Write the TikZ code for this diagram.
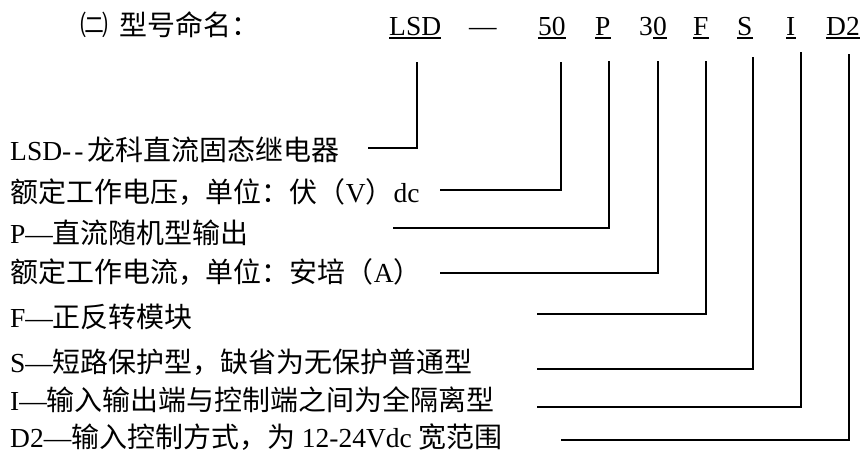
\documentclass[tikz,border=0pt]{standalone}
\usepackage{fontspec}
\setmainfont{Liberation Serif}
\newfontfamily\cjk{Noto Sans CJK SC}[Scale=1.017]
\newcommand\zh[1]{{\cjk #1}}
\begin{document}
\begin{tikzpicture}[x=1pt,y=-1pt,
  lbl/.style={anchor=base west,inner sep=0pt,font=\fontsize{27.5}{33}\selectfont},
  lead/.style={line width=1.4pt},
  uline/.style={line width=1.3pt}]
\useasboundingbox (0,0) rectangle (862,450);
% title and code row
\node[lbl] (title) at (80,35.5) {\zh{㈡\kern11pt 型号命名：}};
\node[lbl] (cLSD) at (389,35.5) {LSD};
\node[lbl] (cdash) at (469,35.5) {—};
\node[lbl] (c50) at (538,35.5) {50};
\node[lbl] (cP) at (595,35.5) {P};
\node[lbl] (c3) at (639,35.5) {3};
\node[lbl] (c0) at (653,35.5) {0};
\node[lbl] (cF) at (693,35.5) {F};
\node[lbl] (cS) at (737,35.5) {S};
\node[lbl] (cI) at (786,35.5) {I};
\node[lbl] (cD) at (826,35.5) {D2};
\foreach \n in {cLSD,c50,cP,c0,cF,cS,cI,cD}
  \draw[uline] ([yshift=-2.5pt]\n.base west) -- ([yshift=-2.5pt]\n.base east);
% descriptions
\node[lbl] (d1) at (10,160) {LSD-\kern3pt-\kern4pt\zh{龙科直流固态继电器}};
\node[lbl] (d2) at (10,202.5) {\zh{额定工作电压，单位：伏（}V\zh{）}dc};
\node[lbl] (d3) at (10,243.5) {P—\zh{直流随机型输出}};
\node[lbl] (d4) at (10,282.5) {\zh{额定工作电流，单位：安培（}A\zh{）}};
\node[lbl] (d5) at (10,327.5) {F—\zh{正反转模块}};
\node[lbl] (d6) at (10,372.5) {S—\zh{短路保护型，缺省为无保护普通型}};
\node[lbl] (d7) at (10,410.5) {I—\zh{输入输出端与控制端之间为全隔离型}};
\node[lbl] (d8) at (10,447) {D2—\zh{输入控制方式，为} 12-24Vdc \zh{宽范围}};
% leader end points
\coordinate (t1) at (417,62);  \coordinate (e1) at (368,148);
\coordinate (t2) at (561,62);  \coordinate (e2) at (440,190);
\coordinate (t3) at (609,61);  \coordinate (e3) at (393,228);
\coordinate (t4) at (658,61);  \coordinate (e4) at (440,273);
\coordinate (t5) at (706,61);  \coordinate (e5) at (537,314);
\coordinate (t6) at (753,57);  \coordinate (e6) at (537,369);
\coordinate (t7) at (801,52);  \coordinate (e7) at (537,407);
\coordinate (t8) at (849,54);  \coordinate (e8) at (561,440);
\foreach \i in {1,...,8}
  \draw[lead] (t\i) |- (e\i);
\end{tikzpicture}
\end{document}
